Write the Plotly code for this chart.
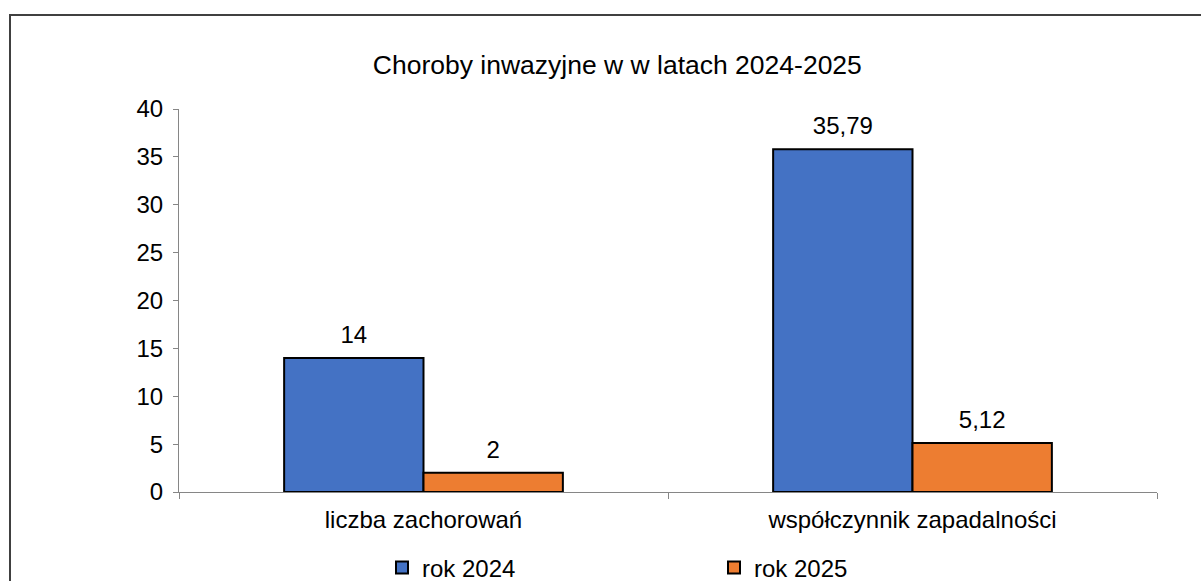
import plotly.graph_objects as go

categories = ["liczba zachorowań", "współczynnik zapadalności"]
series_names = ["rok 2024", "rok 2025"]
values_2024 = [14, 35.79]
values_2025 = [2, 5.12]
colors = ["#4472C4", "#ED7D31"]

W, H = 1201, 581
L, R, T, B = 179, 1157, 109, 492

FONT = "Liberation Sans, Arial, sans-serif"

fig = go.Figure()
for i, (name, vals, col) in enumerate(zip(series_names, [values_2024, values_2025], colors)):
    fig.add_trace(go.Bar(
        x=categories, y=vals, name=name, offsetgroup=str(i),
        marker=dict(color=col, line=dict(color="black", width=2)),
        texttemplate="%{y}", textposition="outside",
        textfont=dict(size=24, color="black", family=FONT),
        cliponaxis=False,
    ))

def px(x):
    return (x - L) / (R - L)

def py(y):
    return (B - y) / (B - T)

fig.add_shape(type="rect", xref="paper", yref="paper",
              x0=px(10), x1=px(1230), y0=py(15), y1=py(610),
              line=dict(color="#404040", width=2), fillcolor="rgba(0,0,0,0)")

fig.update_layout(
    width=W, height=H,
    margin=dict(l=L, r=W - R, t=T, b=H - B, autoexpand=False),
    paper_bgcolor="white", plot_bgcolor="white",
    separators=", ",
    barmode="group", bargap=0.43, bargroupgap=0,
    font=dict(family=FONT, size=24, color="black"),
    title=dict(text="Choroby inwazyjne w w latach 2024-2025", x=0.514, xanchor="center",
               y=1 - 65 / H, yanchor="middle", font=dict(size=26.5, color="black")),
    showlegend=True,
    legend=dict(orientation="h", x=px(382), xanchor="left", y=py(568), yanchor="middle",
                entrywidth=287, entrywidthmode="pixels", font=dict(size=24),
                itemsizing="constant", bgcolor="rgba(0,0,0,0)"),
    xaxis=dict(showline=True, linecolor="#868686", linewidth=1, ticks="outside",
               tickson="boundaries", tickcolor="#868686", ticklen=6,
               showgrid=False, tickfont=dict(size=24), ticklabelstandoff=6),
    yaxis=dict(range=[0, 40], dtick=5, showline=True, linecolor="#868686", linewidth=1,
               ticks="outside", tickcolor="#868686", ticklen=5, showgrid=False,
               zeroline=False, tickfont=dict(size=24), ticklabelstandoff=5),
)

# Shift the outside bar labels up a little, as in the reference
post = """
document.body.style.margin='0';document.body.style.overflow='hidden';
var gd = document.querySelector('.plotly-graph-div');
function shiftText(){
  gd.querySelectorAll('.bartext').forEach(function(t){
    t.setAttribute('dy', '-7');
  });
}
shiftText();
gd.on('plotly_afterplot', shiftText);
"""

fig.write_html("out.html", post_script=post, config={"displayModeBar": False})
